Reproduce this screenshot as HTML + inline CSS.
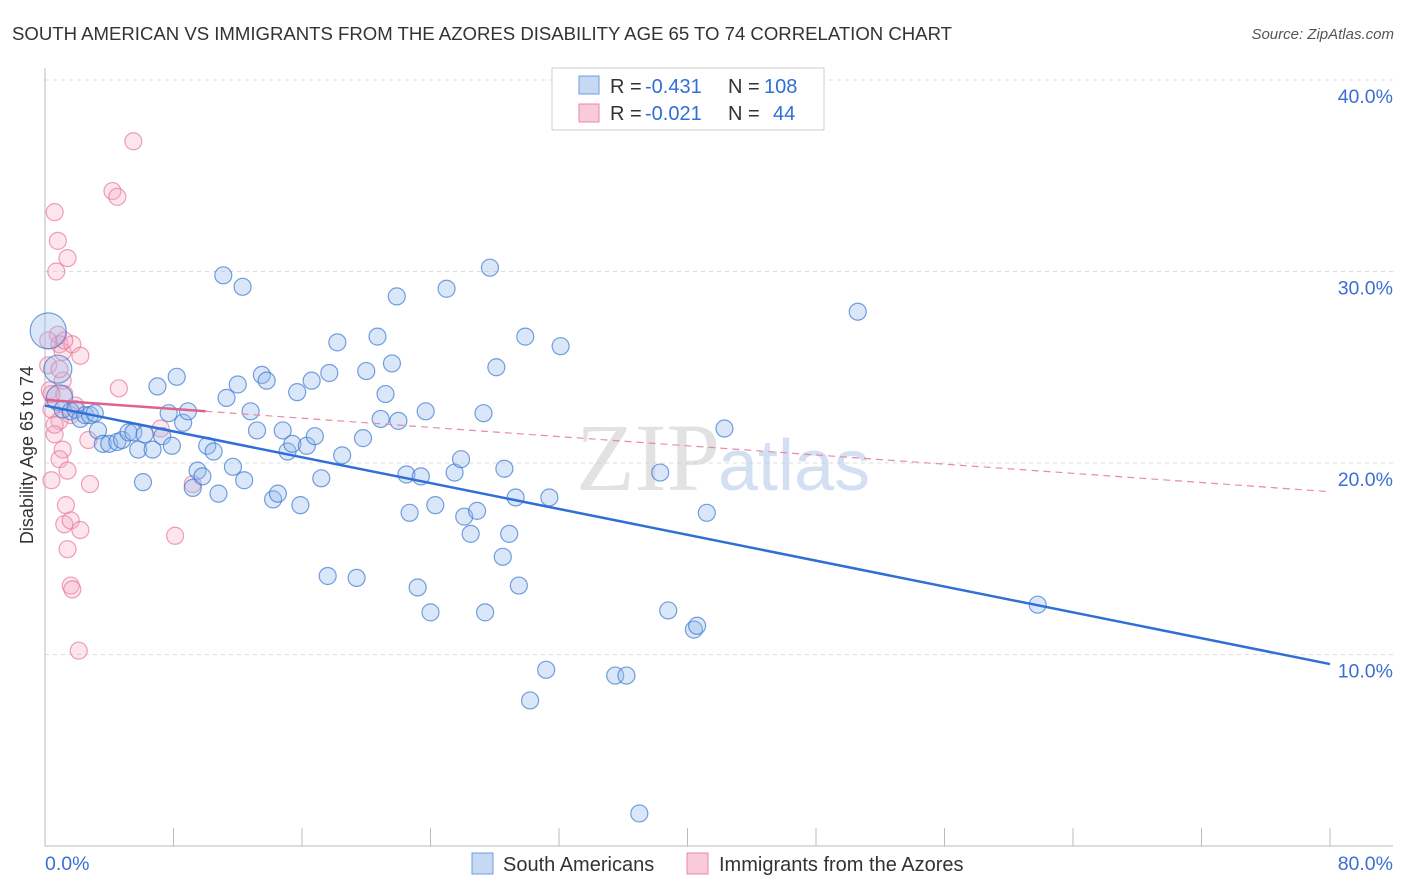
<!DOCTYPE html>
<html><head><meta charset="utf-8"><style>
body{margin:0;background:#fff;font-family:"Liberation Sans",sans-serif;}
svg{display:block}
</style></head><body>
<svg id="chart" width="1406" height="892">
<text x="12" y="40" font-size="18.6" fill="#333" textLength="940">SOUTH AMERICAN VS IMMIGRANTS FROM THE AZORES DISABILITY AGE 65 TO 74 CORRELATION CHART</text>
<text x="1394" y="39" font-size="15" fill="#555" font-style="italic" text-anchor="end">Source: ZipAtlas.com</text>
<g id="grid"></g>
<text x="720" y="490" font-size="96" font-family="Liberation Serif,serif" fill="#ccc" opacity="0.55" text-anchor="end">ZIP</text>
<text x="718" y="490" font-size="72" fill="#a9c3e8" opacity="0.5">atlas</text>
<g id="pts"></g>
<g id="lines"></g>
<text transform="translate(33,455) rotate(-90)" font-size="18" fill="#333" text-anchor="middle">Disability Age 65 to 74</text>
<g>
<rect x="552" y="68" width="272" height="62" fill="#fff" stroke="#ccc"/>
<rect x="579" y="76" width="20" height="18" fill="#c5d9f5" stroke="#6e9de0"/>
<text x="610" y="93" font-size="20" fill="#333">R =</text>
<text x="645" y="93" font-size="20" fill="#2f6fd6">-0.431</text>
<text x="728" y="93" font-size="20" fill="#333">N =</text>
<text x="764" y="93" font-size="20" fill="#2f6fd6">108</text>
<rect x="579" y="104" width="20" height="18" fill="#f9cad8" stroke="#e88aa8"/>
<text x="610" y="120" font-size="20" fill="#333">R =</text>
<text x="645" y="120" font-size="20" fill="#2f6fd6">-0.021</text>
<text x="728" y="120" font-size="20" fill="#333">N =</text>
<text x="773" y="120" font-size="20" fill="#2f6fd6">44</text>
</g>
<g>
<rect x="472" y="853" width="21" height="21" fill="#c5d9f5" stroke="#6e9de0"/>
<text x="503" y="871" font-size="20" fill="#333">South Americans</text>
<rect x="687" y="853" width="21" height="21" fill="#f9cad8" stroke="#e88aa8"/>
<text x="719" y="871" font-size="20" fill="#333">Immigrants from the Azores</text>
</g>
<text x="45" y="870" font-size="19.5" fill="#3b6fd4">0.0%</text>
<text x="1393" y="870" font-size="19.5" fill="#3b6fd4" text-anchor="end">80.0%</text>
</svg>
<script>
const yTicks=[40,30,20,10];
const yTickLabels=["40.0%","30.0%","20.0%","10.0%"];
const blueX=[0.2,0.8,0.9,1.1,1.6,1.9,2.2,2.5,2.8,3.1,3.3,3.6,4.0,4.5,4.8,5.2,5.5,5.8,6.2,6.1,6.7,7.0,7.3,7.7,7.9,8.2,8.6,8.9,9.2,9.5,9.8,10.1,10.5,10.8,11.1,11.3,11.7,12.0,12.3,12.4,12.8,13.2,13.5,13.8,14.2,14.5,14.8,15.1,15.4,15.7,15.9,16.3,16.6,16.8,17.2,17.6,17.7,18.2,18.5,19.4,19.8,20.0,20.7,20.9,21.2,21.6,21.9,22.0,22.5,22.7,23.2,23.4,23.7,24.0,24.3,25.0,25.5,25.9,26.1,26.5,26.9,27.3,27.4,27.7,28.1,28.5,28.6,28.9,29.3,29.5,29.9,30.2,31.2,31.4,32.1,35.5,36.2,37.0,38.3,38.8,40.4,40.6,41.2,42.3,50.6,61.8];
const blueY=[26.9,24.9,23.4,22.8,22.7,22.8,22.3,22.5,22.5,22.6,21.7,21.0,21.0,21.1,21.2,21.6,21.6,20.7,21.5,19.0,20.7,24.0,21.4,22.6,20.9,24.5,22.1,22.7,18.7,19.6,19.3,20.9,20.6,18.4,29.8,23.4,19.8,24.1,29.2,19.1,22.7,21.7,24.6,24.3,18.1,18.4,21.7,20.6,21.0,23.7,17.8,20.9,24.3,21.4,19.2,14.1,24.7,26.3,20.4,14.0,21.3,24.8,26.6,22.3,23.6,25.2,28.7,22.2,19.4,17.4,13.5,19.3,22.7,12.2,17.8,29.1,19.5,20.2,17.2,16.3,17.5,22.6,12.2,30.2,25.0,15.1,19.7,16.3,18.2,13.6,26.6,7.6,9.2,18.2,26.1,8.9,8.9,1.7,19.5,12.3,11.3,11.5,17.4,21.8,27.9,12.6];
const blueSize=[18,14,13];
const pinkX=[0.2,0.3,0.4,0.4,0.6,0.7,0.8,0.8,0.9,1.1,1.1,1.2,1.4,0.9,1.1,0.9,0.6,1.4,1.6,1.7,1.9,2.2,1.3,1.2,1.6,1.4,1.6,1.7,2.2,2.1,2.7,2.8,4.2,4.5,4.6,5.5,7.2,8.1,9.2,0.2,0.4,0.6,0.9,1.2];
const pinkY=[25.1,23.8,22.8,19.1,33.1,30.0,26.7,31.6,26.2,25.8,24.3,23.6,30.7,22.2,20.7,20.2,21.5,19.6,22.5,26.2,23.0,25.6,17.8,16.8,17.0,15.5,13.6,13.4,16.5,10.2,21.2,18.9,34.2,33.9,23.9,36.8,21.8,16.2,18.9,26.4,23.6,22.0,24.9,26.4];
const blueTrend=[23.0,9.5];
const pinkTrend=[23.3,18.5];
const NS="http://www.w3.org/2000/svg";
const X0=45,X1=1330,Y0=846,PXY=19.15;
const sx=v=>X0+v*(X1-X0)/80;
const sy=v=>Y0-v*PXY;
function mk(tag,attrs,parent){const e=document.createElementNS(NS,tag);for(const k in attrs)e.setAttribute(k,attrs[k]);parent.appendChild(e);return e;}
const grid=document.getElementById('grid');
yTicks.forEach((t,i)=>{
 const l=mk('line',{x1:45,x2:1393,y1:sy(t),y2:sy(t),stroke:'#ddd','stroke-dasharray':'4,4'},grid);
 
 
 const tx=mk('text',{x:1393,y:sy(t)+23,'font-size':19.5,fill:'#3b6fd4','text-anchor':'end'},grid);
 tx.textContent=yTickLabels[i];
 
 
});
const ax=mk('line',{x1:45,x2:45,y1:68,y2:846,stroke:'#bbb'},grid);


const bx=mk('line',{x1:45,x2:1393,y1:846,y2:846,stroke:'#bbb'},grid);


for(let i=0;i<=10;i++){const t=mk('line',{x1:sx(i*8),x2:sx(i*8),y1:828,y2:846,stroke:'#bbb'},grid);
 
 }
const pts=document.getElementById('pts');
pinkX.forEach((x,i)=>{const c=mk('circle',{cx:sx(x),cy:sy(pinkY[i]),r:8.5,fill:'rgba(246,170,195,0.3)',stroke:'rgba(232,120,155,0.7)','stroke-width':1.2},pts);
 
 });
blueX.forEach((x,i)=>{const c=mk('circle',{cx:sx(x),cy:sy(blueY[i]),r:blueSize[i]||8.5,fill:'rgba(150,185,235,0.35)',stroke:'rgba(60,120,210,0.7)','stroke-width':1.2},pts);
 
 });
const lines=document.getElementById('lines');
const bl=mk('line',{x1:sx(0),y1:sy(blueTrend[0]),x2:sx(80),y2:sy(blueTrend[1]),stroke:'#2f6fd6','stroke-width':2.5},lines);


const pm=pinkTrend[0]+(pinkTrend[1]-pinkTrend[0])*10/80;
const pd=mk('line',{x1:sx(10),y1:sy(pm),x2:sx(80),y2:sy(pinkTrend[1]),stroke:'#e88aa8','stroke-width':1.2,'stroke-dasharray':'7,5'},lines);


const ps=mk('line',{x1:sx(0),y1:sy(pinkTrend[0]),x2:sx(10),y2:sy(pm),stroke:'#e0628c','stroke-width':2.5},lines);


</script>
</body></html>
